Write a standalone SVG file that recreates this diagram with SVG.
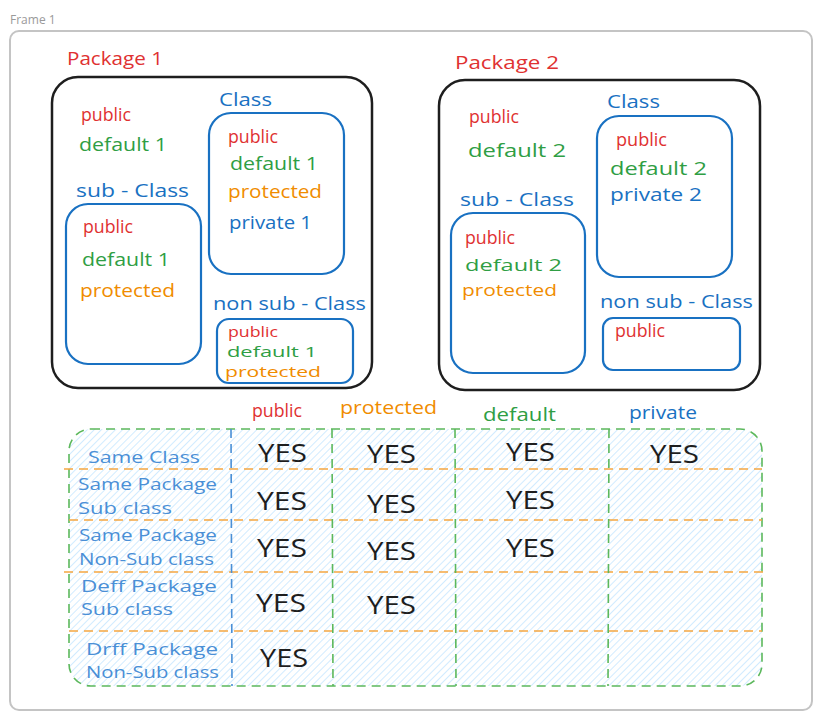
<svg xmlns="http://www.w3.org/2000/svg" width="822" height="719" viewBox="0 0 822 719">
<style>
text{font-family:"Open Sans","Liberation Sans",sans-serif;font-size:19px}
.r{fill:#e03131}.g{fill:#2f9e44}.o{fill:#f08c00}.b{fill:#1971c2}.lb{fill:#4a8fd6;font-size:17px}
.sm{font-size:15px}.md{font-size:17px}
.yes{font-size:25px;fill:#1e1e1e}
.pkg{fill:none;stroke:#1e1e1e;stroke-width:2.5}
.cls{fill:none;stroke:#1971c2;stroke-width:2.2}
.hd{stroke:#f5a742;stroke-width:1.6;stroke-dasharray:9 6;fill:none}
.vd{stroke:#5cb85c;stroke-width:1.6;stroke-dasharray:9 6;fill:none}
</style>
<defs>
<pattern id="hatch" patternUnits="userSpaceOnUse" width="5" height="5" patternTransform="rotate(45)">
<line x1="0" y1="0" x2="0" y2="5" stroke="#b8e0ff" stroke-width="1.3"/>
</pattern>
</defs>
<rect width="822" height="719" fill="#ffffff"/>
<g id="frame">
<text x="10" y="24" style="font-size:12px;fill:#9a9a9a">Frame 1</text>
<rect x="10" y="31" width="802" height="679" rx="9" fill="none" stroke="#c4c4c4" stroke-width="2"/>
</g>
<g id="package1">
<text class="r" x="67" y="65" textLength="96" lengthAdjust="spacingAndGlyphs">Package 1</text>
<rect class="pkg" x="52" y="77" width="320" height="311" rx="26"/>
<text class="r" x="81" y="121" textLength="50" lengthAdjust="spacingAndGlyphs">public</text>
<text class="g" x="79" y="151" textLength="88" lengthAdjust="spacingAndGlyphs">default 1</text>
</g>
<g id="p1-class">
<text class="b" x="219" y="106" textLength="53" lengthAdjust="spacingAndGlyphs">Class</text>
<rect class="cls" x="209" y="113" width="135" height="161" rx="22"/>
<text class="r" x="228" y="143" textLength="50" lengthAdjust="spacingAndGlyphs">public</text>
<text class="g" x="230" y="170" textLength="88" lengthAdjust="spacingAndGlyphs">default 1</text>
<text class="o" x="228" y="198" textLength="94" lengthAdjust="spacingAndGlyphs">protected</text>
<text class="b" x="229" y="229" textLength="83" lengthAdjust="spacingAndGlyphs">private 1</text>
</g>
<g id="p1-subclass">
<text class="b" x="76" y="197" textLength="113" lengthAdjust="spacingAndGlyphs">sub - Class</text>
<rect class="cls" x="66" y="204" width="135" height="160" rx="22"/>
<text class="r" x="83" y="233" textLength="50" lengthAdjust="spacingAndGlyphs">public</text>
<text class="g" x="82" y="266" textLength="88" lengthAdjust="spacingAndGlyphs">default 1</text>
<text class="o" x="80" y="297" textLength="95" lengthAdjust="spacingAndGlyphs">protected</text>
</g>
<g id="p1-nonsubclass">
<text class="b" x="213" y="310" textLength="153" lengthAdjust="spacingAndGlyphs">non sub - Class</text>
<rect class="cls" x="217" y="319" width="136" height="64" rx="12"/>
<text class="r sm" x="228" y="337" textLength="50" lengthAdjust="spacingAndGlyphs">public</text>
<text class="g sm" x="227" y="357" textLength="90" lengthAdjust="spacingAndGlyphs">default 1</text>
<text class="o sm" x="225" y="377" textLength="96" lengthAdjust="spacingAndGlyphs">protected</text>
</g>
<g id="package2">
<text class="r" x="455" y="69" textLength="104" lengthAdjust="spacingAndGlyphs">Package 2</text>
<rect class="pkg" x="439" y="80" width="321" height="310" rx="26"/>
<text class="r" x="469" y="123" textLength="50" lengthAdjust="spacingAndGlyphs">public</text>
<text class="g" x="468" y="157" textLength="98" lengthAdjust="spacingAndGlyphs">default 2</text>
</g>
<g id="p2-class">
<text class="b" x="607" y="108" textLength="53" lengthAdjust="spacingAndGlyphs">Class</text>
<rect class="cls" x="597" y="116" width="135" height="161" rx="22"/>
<text class="r" x="616" y="146" textLength="51" lengthAdjust="spacingAndGlyphs">public</text>
<text class="g" x="610" y="175" textLength="97" lengthAdjust="spacingAndGlyphs">default 2</text>
<text class="b" x="610" y="201" textLength="92" lengthAdjust="spacingAndGlyphs">private 2</text>
</g>
<g id="p2-subclass">
<text class="b" x="460" y="206" textLength="114" lengthAdjust="spacingAndGlyphs">sub - Class</text>
<rect class="cls" x="451" y="213" width="134" height="160" rx="22"/>
<text class="r" x="465" y="244" textLength="50" lengthAdjust="spacingAndGlyphs">public</text>
<text class="g md" x="465" y="271" textLength="97" lengthAdjust="spacingAndGlyphs">default 2</text>
<text class="o md" x="462" y="296" textLength="95" lengthAdjust="spacingAndGlyphs">protected</text>
</g>
<g id="p2-nonsubclass">
<text class="b" x="600" y="308" textLength="153" lengthAdjust="spacingAndGlyphs">non sub - Class</text>
<rect class="cls" x="603" y="318" width="137" height="52" rx="10"/>
<text class="r" x="615" y="337" textLength="50" lengthAdjust="spacingAndGlyphs">public</text>
</g>
<g id="access-table">
<rect x="69" y="429" width="693" height="257" rx="22" fill="#ffffff"/>
<rect x="69" y="429" width="693" height="257" rx="22" fill="url(#hatch)" stroke="#5cb85c" stroke-width="1.6" stroke-dasharray="9 6"/>
<line class="hd" x1="64" y1="469" x2="762" y2="469"/>
<line class="hd" x1="69" y1="520" x2="762" y2="520"/>
<line class="hd" x1="64" y1="572" x2="765" y2="572"/>
<line class="hd" x1="69" y1="631" x2="762" y2="631"/>
<line x1="231" y1="429" x2="232" y2="686" stroke="#4a8fd6" stroke-width="1.6" stroke-dasharray="9 6"/>
<line class="vd" x1="332" y1="429" x2="333" y2="686"/>
<line class="vd" x1="455" y1="429" x2="456" y2="686"/>
<line class="vd" x1="609" y1="429" x2="608" y2="686"/>
<text class="r" x="252" y="417" textLength="50" lengthAdjust="spacingAndGlyphs">public</text>
<text class="o" x="340" y="414" textLength="97" lengthAdjust="spacingAndGlyphs">protected</text>
<text class="g" x="483" y="421" textLength="73" lengthAdjust="spacingAndGlyphs">default</text>
<text class="b" x="629" y="419" textLength="68" lengthAdjust="spacingAndGlyphs">private</text>
<text class="lb" x="88" y="463" textLength="112" lengthAdjust="spacingAndGlyphs">Same Class</text>
<text class="lb" x="78" y="490" textLength="139" lengthAdjust="spacingAndGlyphs">Same Package</text>
<text class="lb" x="78" y="514" textLength="94" lengthAdjust="spacingAndGlyphs">Sub class</text>
<text class="lb" x="79" y="541" textLength="138" lengthAdjust="spacingAndGlyphs">Same Package</text>
<text class="lb" x="79" y="565" textLength="135" lengthAdjust="spacingAndGlyphs">Non-Sub class</text>
<text class="lb" x="81" y="592" textLength="136" lengthAdjust="spacingAndGlyphs">Deff Package</text>
<text class="lb" x="81" y="615" textLength="92" lengthAdjust="spacingAndGlyphs">Sub class</text>
<text class="lb" x="86" y="655" textLength="132" lengthAdjust="spacingAndGlyphs">Drff Package</text>
<text class="lb" x="86" y="678" textLength="133" lengthAdjust="spacingAndGlyphs">Non-Sub class</text>
<text class="yes" x="258" y="462" textLength="49" lengthAdjust="spacingAndGlyphs">YES</text>
<text class="yes" x="257" y="510" textLength="50" lengthAdjust="spacingAndGlyphs">YES</text>
<text class="yes" x="257" y="557" textLength="50" lengthAdjust="spacingAndGlyphs">YES</text>
<text class="yes" x="256" y="612" textLength="50" lengthAdjust="spacingAndGlyphs">YES</text>
<text class="yes" x="260" y="667" textLength="48" lengthAdjust="spacingAndGlyphs">YES</text>
<text class="yes" x="367" y="463" textLength="49" lengthAdjust="spacingAndGlyphs">YES</text>
<text class="yes" x="367" y="513" textLength="49" lengthAdjust="spacingAndGlyphs">YES</text>
<text class="yes" x="367" y="560" textLength="49" lengthAdjust="spacingAndGlyphs">YES</text>
<text class="yes" x="367" y="614" textLength="49" lengthAdjust="spacingAndGlyphs">YES</text>
<text class="yes" x="506" y="461" textLength="49" lengthAdjust="spacingAndGlyphs">YES</text>
<text class="yes" x="506" y="509" textLength="49" lengthAdjust="spacingAndGlyphs">YES</text>
<text class="yes" x="506" y="557" textLength="49" lengthAdjust="spacingAndGlyphs">YES</text>
<text class="yes" x="650" y="463" textLength="49" lengthAdjust="spacingAndGlyphs">YES</text>
</g>
<g id="connectors"/>
</svg>
